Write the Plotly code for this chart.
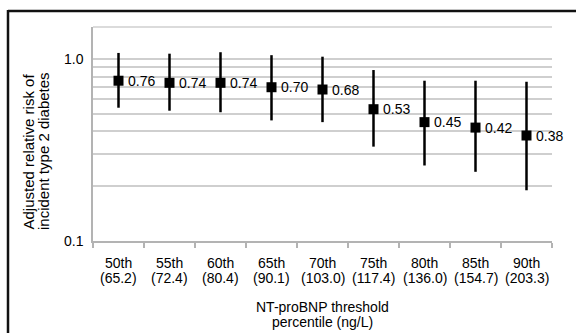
import math
import plotly.graph_objects as go

percentiles = ["50th", "55th", "60th", "65th", "70th", "75th", "80th", "85th", "90th"]
thresholds = ["(65.2)", "(72.4)", "(80.4)", "(90.1)", "(103.0)", "(117.4)", "(136.0)", "(154.7)", "(203.3)"]
rr = [0.76, 0.74, 0.74, 0.70, 0.68, 0.53, 0.45, 0.42, 0.38]
ci_low = [0.54, 0.52, 0.51, 0.46, 0.45, 0.33, 0.26, 0.24, 0.19]
ci_high = [1.08, 1.07, 1.09, 1.05, 1.03, 0.87, 0.76, 0.76, 0.75]
y_grid = [0.1, 0.2, 0.3, 0.4, 0.5, 0.6, 0.7, 0.8, 0.9, 1.0]
y_labels = ["0.1", "", "", "", "", "", "", "", "", "1.0"]

W, H = 576, 333
L, R, T, B = 93, 24, 27, 92
pw, ph = W - L - R, H - T - B


def px_x(x):
    return (x - L) / pw


def px_y(y):
    return (H - B - y) / ph


FONT = "Liberation Sans, Arial, Helvetica, sans-serif"
GRID = "#cfcfcf"
AXIS = "#b3b3b3"

fig = go.Figure()
fig.add_trace(go.Scatter(
    x=percentiles, y=rr,
    mode="markers",
    marker=dict(symbol="square", size=10, color="black"),
    error_y=dict(type="data", symmetric=False,
                 array=[h - v for h, v in zip(ci_high, rr)],
                 arrayminus=[v - l for v, l in zip(rr, ci_low)],
                 color="black", thickness=2.5, width=0),
    cliponaxis=False,
    showlegend=False,
))

annotations = []
for p, v in zip(percentiles, rr):
    # annotations on a log axis take log10 positions
    annotations.append(dict(x=p, xref="x", y=math.log10(v), yref="y", xanchor="left",
                            yanchor="middle", xshift=7, text=f"{v:.2f}", showarrow=False,
                            font=dict(size=14, color="black", family=FONT)))
for p, t in zip(percentiles, thresholds):
    annotations.append(dict(x=p, xref="x", y=0, yref="paper", yshift=-22,
                            text=p, showarrow=False, yanchor="middle",
                            font=dict(size=14, color="black", family=FONT)))
    annotations.append(dict(x=p, xref="x", y=0, yref="paper", yshift=-36.5,
                            text=t, showarrow=False, yanchor="middle",
                            font=dict(size=14, color="black", family=FONT)))

annotations += [
    dict(x=0.5, xref="paper", y=px_y(307), yref="paper", text="NT-proBNP threshold",
         showarrow=False, yanchor="middle", xanchor="center",
         font=dict(size=14, color="black", family=FONT)),
    dict(x=0.5, xref="paper", y=px_y(322), yref="paper", text="percentile (ng/L)",
         showarrow=False, yanchor="middle", xanchor="center",
         font=dict(size=14, color="black", family=FONT)),
    dict(x=px_x(28), xref="paper", y=px_y(151.5), yref="paper", text="Adjusted relative risk of",
         showarrow=False, textangle=-90, xanchor="center", yanchor="middle",
         font=dict(size=15, color="black", family=FONT)),
    dict(x=px_x(43.5), xref="paper", y=px_y(151.5), yref="paper", text="incident type 2 diabetes",
         showarrow=False, textangle=-90, xanchor="center", yanchor="middle",
         font=dict(size=15, color="black", family=FONT)),
]

shapes = [
    dict(type="line", xref="paper", yref="paper", x0=0, x1=1, y0=1, y1=1,
         line=dict(color=GRID, width=1.5)),
    dict(type="line", xref="paper", yref="paper", x0=px_x(8), x1=px_x(W + 5),
         y0=px_y(11), y1=px_y(11), line=dict(color="#111111", width=2.5)),
    dict(type="line", xref="paper", yref="paper", x0=px_x(8), x1=px_x(8),
         y0=px_y(10), y1=px_y(H + 5), line=dict(color="#111111", width=2.5)),
]

fig.update_layout(
    width=W, height=H,
    margin=dict(l=L, r=R, t=T, b=B, autoexpand=False),
    paper_bgcolor="white", plot_bgcolor="white",
    font=dict(family=FONT, size=14, color="black"),
    annotations=annotations,
    shapes=shapes,
    xaxis=dict(type="category", range=[-0.5, 8.5], showgrid=False, zeroline=False,
               showline=True, linecolor=AXIS, linewidth=1.5,
               ticks="outside", tickson="boundaries", ticklen=5, tickcolor=AXIS, tickwidth=1.5,
               showticklabels=False, fixedrange=True),
    yaxis=dict(type="log", range=[-1, 0.176], tickvals=y_grid, ticktext=y_labels,
               showgrid=True, gridcolor=GRID, gridwidth=1.5,
               showline=True, linecolor=AXIS, linewidth=1.5,
               ticks="outside", ticklen=5, tickcolor="rgba(0,0,0,0)",
               tickfont=dict(size=14, color="black", family=FONT), fixedrange=True),
)

fig.write_html("out.html", config={"displayModeBar": False},
               post_script="document.body.style.margin='0';document.body.style.overflow='hidden';")
